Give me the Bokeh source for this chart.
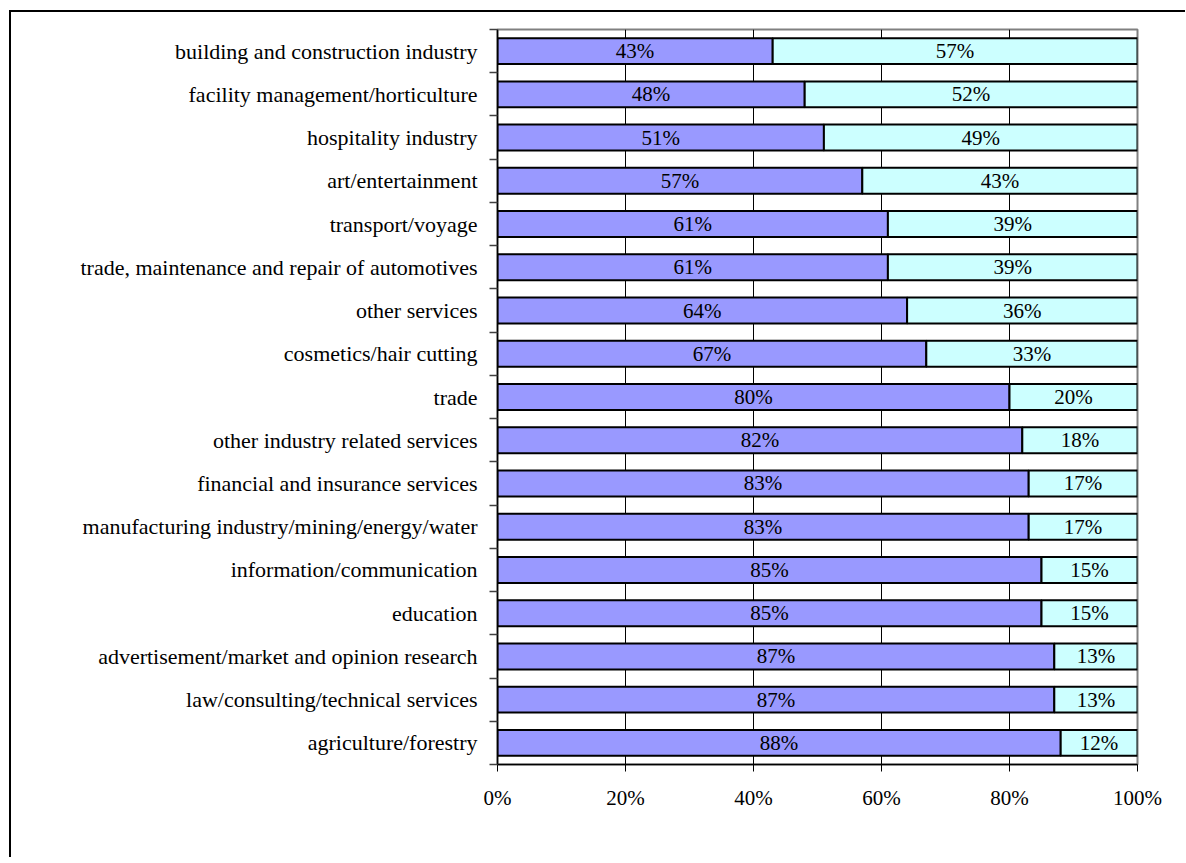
from bokeh.plotting import figure
from bokeh.models import ColumnDataSource, Range1d, FixedTicker
from bokeh.core.properties import value
from bokeh.embed import file_html
from bokeh.resources import INLINE

categories = [
    "building and construction industry",
    "facility management/horticulture",
    "hospitality industry",
    "art/entertainment",
    "transport/voyage",
    "trade, maintenance and repair of automotives",
    "other services",
    "cosmetics/hair cutting",
    "trade",
    "other industry related services",
    "financial and insurance services",
    "manufacturing industry/mining/energy/water",
    "information/communication",
    "education",
    "advertisement/market and opinion research",
    "law/consulting/technical services",
    "agriculture/forestry",
]
series_a = [43, 48, 51, 57, 61, 61, 64, 67, 80, 82, 83, 83, 85, 85, 87, 87, 88]
series_b = [57, 52, 49, 43, 39, 39, 36, 33, 20, 18, 17, 17, 15, 15, 13, 13, 12]
x_ticks = [0, 20, 40, 60, 80, 100]
x_tick_labels = ["0%", "20%", "40%", "60%", "80%", "100%"]

FONT = "Liberation Serif"
n = len(categories)
ypos = list(range(n))

src = ColumnDataSource(dict(
    y=ypos,
    a=series_a,
    b_end=[a + b for a, b in zip(series_a, series_b)],
    zero=[0] * n,
    a_mid=[a / 2 for a in series_a],
    b_mid=[a + b / 2 for a, b in zip(series_a, series_b)],
    a_lab=[f"{v}%" for v in series_a],
    b_lab=[f"{v}%" for v in series_b],
))

p = figure(
    output_backend="svg", toolbar_location=None,
    width=1174, height=845,
    frame_width=640, frame_height=735,
    min_border_left=486, min_border_top=17, min_border_right=48, min_border_bottom=93,
    x_range=Range1d(0, 100), y_range=Range1d(n - 0.5, -0.5),
    background_fill_color="white", border_fill_color="white",
    styles={"margin-left": "9px", "margin-top": "10px",
            "border-top": "2px solid black", "border-left": "2px solid black"},
)

p.outline_line_color = "#808080"
p.outline_line_width = 2

# grid
p.ygrid.visible = False
p.xgrid.ticker = FixedTicker(ticks=x_ticks)
p.xgrid.grid_line_color = "black"
p.xgrid.grid_line_width = 1

# bars
p.hbar(y="y", left="zero", right="a", height=0.6, source=src,
       fill_color="#9999FF", line_color="black", line_width=2)
p.hbar(y="y", left="a", right="b_end", height=0.6, source=src,
       fill_color="#CCFFFF", line_color="black", line_width=2)

p.text(x="a_mid", y="y", text="a_lab", source=src, text_align="center",
       text_baseline="middle", text_font=value(FONT), text_font_size="21px",
       text_color="black")
p.text(x="b_mid", y="y", text="b_lab", source=src, text_align="center",
       text_baseline="middle", text_font=value(FONT), text_font_size="21px",
       text_color="black")

# x axis
xa = p.xaxis[0]
xa.ticker = FixedTicker(ticks=x_ticks)
xa.major_label_overrides = {t: l for t, l in zip(x_ticks, x_tick_labels)}
xa.axis_line_color = "black"
xa.axis_line_width = 1.5
xa.major_tick_line_color = "black"
xa.major_tick_out = 7
xa.major_tick_in = 0
xa.minor_tick_line_color = None
xa.major_label_text_font = FONT
xa.major_label_text_font_size = "21px"
xa.major_label_text_color = "black"
xa.major_label_standoff = 14

# y axis
ya = p.yaxis[0]
ya.ticker = FixedTicker(ticks=ypos, minor_ticks=[i - 0.5 for i in range(n + 1)])
ya.major_label_overrides = {i: c for i, c in zip(ypos, categories)}
ya.axis_line_color = "black"
ya.axis_line_width = 1.5
ya.major_tick_line_color = None
ya.major_tick_out = 0
ya.major_tick_in = 0
ya.minor_tick_line_color = "#404040"
ya.minor_tick_out = 8
ya.minor_tick_in = 0
ya.minor_tick_line_width = 1.5
ya.major_label_text_font = FONT
ya.major_label_text_font_size = "22px"
ya.major_label_text_color = "black"
ya.major_label_standoff = 12

open("out.html", "w").write(file_html(p, INLINE))
